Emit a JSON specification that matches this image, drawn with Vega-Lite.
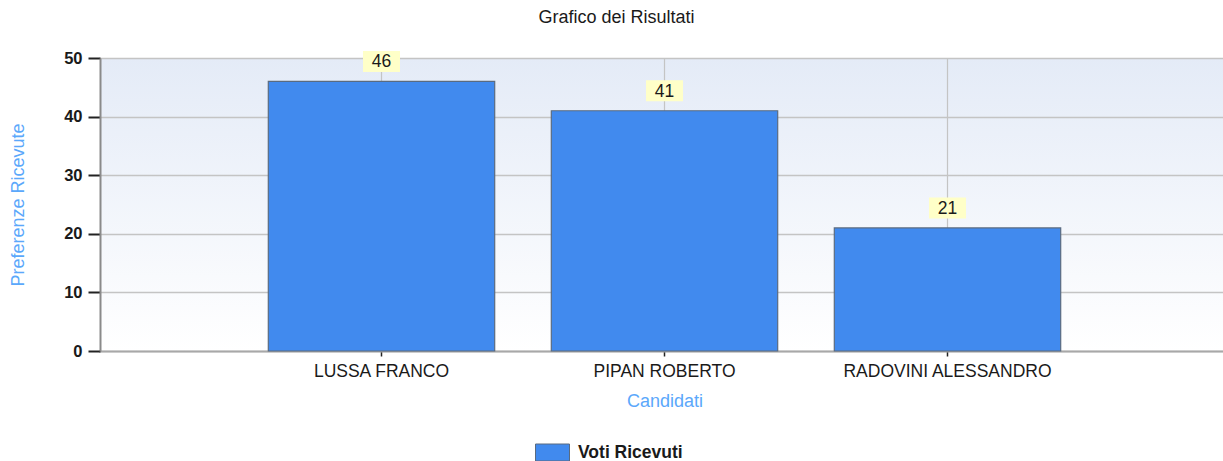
{
  "$schema": "https://vega.github.io/schema/vega-lite/v6.json",
  "width": 1123,
  "height": 293,
  "autosize": {"type": "none"},
  "padding": {"left": 100, "top": 58, "right": 0, "bottom": 110},
  "background": "white",
  "title": {
    "text": "Grafico dei Risultati",
    "anchor": "middle",
    "frame": "group",
    "dx": -45,
    "offset": 23,
    "font": "Liberation Sans",
    "fontSize": 18,
    "fontWeight": "normal",
    "color": "#1a1a1a"
  },
  "config": {
    "view": {
      "stroke": null,
      "fill": {
        "gradient": "linear",
        "x1": 0, "y1": 0, "x2": 0, "y2": 1,
        "stops": [
          {"offset": 0, "color": "#e4ebf7"},
          {"offset": 1, "color": "#ffffff"}
        ]
      }
    },
    "font": "Liberation Sans"
  },
  "data": {
    "values": [
      {"candidato": "LUSSA FRANCO", "voti": 46},
      {"candidato": "PIPAN ROBERTO", "voti": 41},
      {"candidato": "RADOVINI ALESSANDRO", "voti": 21}
    ]
  },
  "encoding": {
    "x": {
      "field": "candidato",
      "type": "nominal",
      "sort": null,
      "scale": {"paddingInner": 0.2, "paddingOuter": 0.6, "range": [-1.5, 1130.5]},
      "axis": {
        "title": "Candidati",
        "titleFont": "Liberation Sans",
        "titleFontSize": 18,
        "titleFontWeight": "normal",
        "titleColor": "#5ba8fb",
        "titlePadding": 13,
        "labelAngle": 0,
        "labelFont": "Liberation Sans",
        "labelFontSize": 17.5,
        "labelColor": "#1a1a1a",
        "labelPadding": 6,
        "labelLimit": 400,
        "bandPosition": 0.5,
        "tickSize": 5,
        "tickColor": "#222222",
        "tickWidth": 1.5,
        "domainColor": "#a8a8a8",
        "domainWidth": 2,
        "grid": true,
        "gridColor": "#c4c4c4",
        "gridWidth": 1.2
      }
    },
    "y": {
      "field": "voti",
      "type": "quantitative",
      "scale": {"domain": [0, 50]},
      "axis": {
        "title": "Preferenze Ricevute",
        "titleFont": "Liberation Sans",
        "titleFontSize": 18,
        "titleFontWeight": "normal",
        "titleColor": "#5ba8fb",
        "titlePadding": 36,
        "values": [0, 10, 20, 30, 40, 50],
        "labelFont": "Liberation Sans",
        "labelFontSize": 16.5,
        "labelFontWeight": "bold",
        "labelColor": "#1a1a1a",
        "labelPadding": 6,
        "tickSize": 12,
        "tickColor": "#222222",
        "tickWidth": 2,
        "domainColor": "#8a8a8a",
        "domainWidth": 2,
        "grid": true,
        "gridColor": "#c4c4c4",
        "gridWidth": 1.5
      }
    }
  },
  "layer": [
    {
      "mark": {"type": "bar", "stroke": "#5a6b80", "strokeWidth": 1.2},
      "encoding": {
        "color": {
          "datum": "Voti Ricevuti",
          "scale": {"range": ["#418aee"]},
          "legend": {
            "title": null,
            "orient": "none",
            "legendX": 435,
            "legendY": 377,
            "symbolType": "M-1,-0.5H1V0.5H-1Z",
            "symbolSize": 1156,
            "symbolStrokeColor": "#5a6b80",
            "symbolStrokeWidth": 1,
            "symbolOpacity": 1,
            "labelFont": "Liberation Sans",
            "labelFontSize": 17.5,
            "labelFontWeight": "bold",
            "labelColor": "#1a1a1a",
            "labelOffset": 8
          }
        }
      }
    },
    {
      "mark": {
        "type": "point",
        "shape": "M-1,-0.57H1V0.57H-1Z",
        "size": 1369,
        "filled": true,
        "color": "#ffffc8",
        "opacity": 1,
        "yOffset": -20
      }
    },
    {
      "mark": {
        "type": "text",
        "font": "Liberation Sans",
        "fontSize": 17.5,
        "color": "#1a1a1a",
        "baseline": "middle",
        "align": "center",
        "yOffset": -19
      },
      "encoding": {"text": {"field": "voti", "type": "quantitative"}}
    }
  ]
}
